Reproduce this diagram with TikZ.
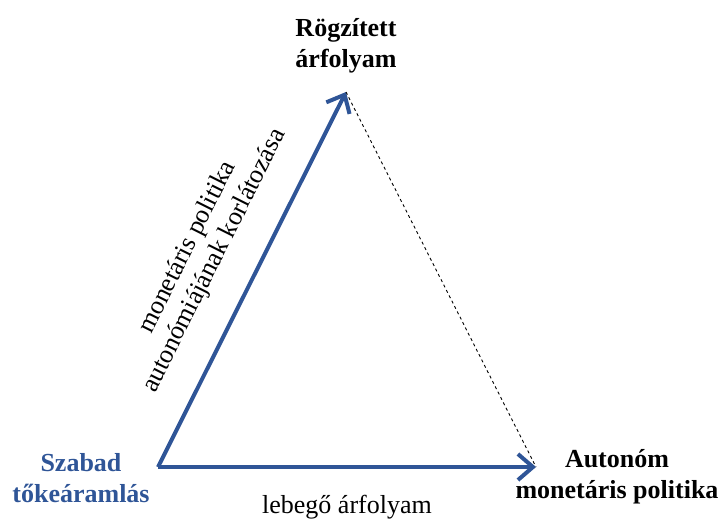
\documentclass[tikz,border=0pt]{standalone}
\usepackage{fontspec}
\setmainfont{Liberation Serif}
\usetikzlibrary{arrows.meta}
\definecolor{tokeblue}{RGB}{47,85,151}
\tikzset{
    corner/.style={font=\fontsize{26}{31}\selectfont\bfseries, align=center, inner sep=0},
    flow/.style={draw=tokeblue, line width=4pt, -{Straight Barb[length=15pt,width=26pt]}},
    peg/.style={draw=black, dashed, line width=0.9pt},
    note/.style={font=\fontsize{26}{30}\selectfont, align=center, inner sep=0}
}

\begin{document}
\begin{tikzpicture}[x=1pt, y=-1pt]
    \useasboundingbox (0,0) rectangle (719,520);
    % corners of the triangle
    \coordinate (top) at (346,92);
    \coordinate (left) at (158,467);
    \coordinate (right) at (536,467);

    \node[corner] (rogzitett) at (346,46) {Rögzített\\árfolyam};
    \node[corner, text=tokeblue] (szabad) at (81,478) {Szabad\\tőkeáramlás};
    \node[corner] (autonom) at (617,477) {Autonóm\\monetáris politika};

    \draw[flow] (left) -- (top)
        node[note, midway, sloped, above=28pt] (korlat) {monetáris politika\\autonómiájának korlátozása};
    \draw[flow] (left) -- (right)
        node[note, midway, below=26pt] (lebego) {lebegő árfolyam};
    \draw[peg] (top) -- (right);
\end{tikzpicture}
\end{document}
